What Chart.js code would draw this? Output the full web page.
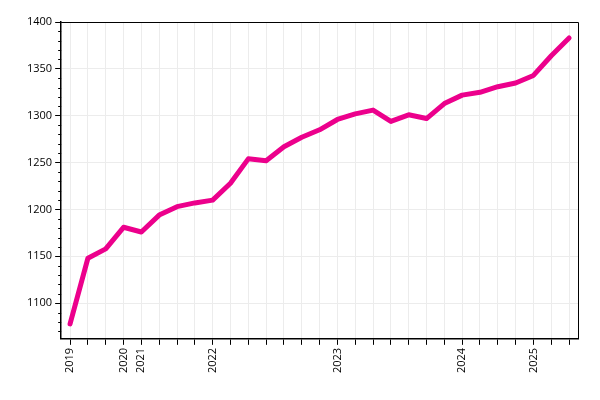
<!DOCTYPE html><html><head><script src="https://cdn.jsdelivr.net/npm/chart.js@4"></script>
<style>body{margin:0}#w{width:600px;height:400px}</style></head><body><div id="w"><canvas id="c"></canvas></div>
<script>
const labels=['2019','','','2020','2021','','','','2022','','','','','','','2023','','','','','','','2024','','','','2025','',''];
const values=[1078,1148,1158,1181,1176,1194,1203,1207,1210,1228,1254,1252,1267,1277,1285,1296,1302,1306,1294,1301,1297,1313,1322,1325,1331,1335,1343,1364,1383];
const yTicks=[1100,1150,1200,1250,1300,1350,1400];
const minor={id:'minor',afterDraw(ch){const y=ch.scales.y,c=ch.ctx,a=ch.chartArea;c.save();c.strokeStyle='#000';c.lineWidth=1;
for(let v=1070;v<=1400;v+=10){if(v%50===0)continue;const p=Math.round(y.getPixelForValue(v))+0.5;c.beginPath();c.moveTo(a.left-3,p);c.lineTo(a.left,p);c.stroke();}
c.beginPath();c.moveTo(a.left,a.top+0.5);c.lineTo(a.right+0.5,a.top+0.5);c.lineTo(a.right+0.5,a.bottom);c.stroke();c.restore();}};
new Chart(document.getElementById('c'),{type:'line',data:{labels,datasets:[{data:values,borderColor:'#ec008c',borderWidth:5,pointRadius:0,tension:0,borderCapStyle:'round',borderJoinStyle:'round'}]},
options:{responsive:true,maintainAspectRatio:false,animation:false,layout:{padding:{left:24,right:22,top:22,bottom:24}},plugins:{legend:{display:false},tooltip:{enabled:false}},
scales:{x:{offset:true,grid:{color:'#ececec',tickColor:'#000',tickLength:6,drawOnChartArea:true},border:{color:'#000',width:1.5},ticks:{autoSkip:false,maxRotation:90,minRotation:90,color:'#000',font:{family:'Open Sans',size:11}}},
y:{min:1062,max:1400,afterBuildTicks(s){s.ticks=yTicks.map(v=>({value:v}));},grid:{color:'#ececec',tickColor:'#000',tickLength:6},border:{color:'#000',width:1.5},ticks:{color:'#000',callback:v=>String(v),font:{family:'Open Sans',size:11}}}}},plugins:[minor]});
</script></body></html>
